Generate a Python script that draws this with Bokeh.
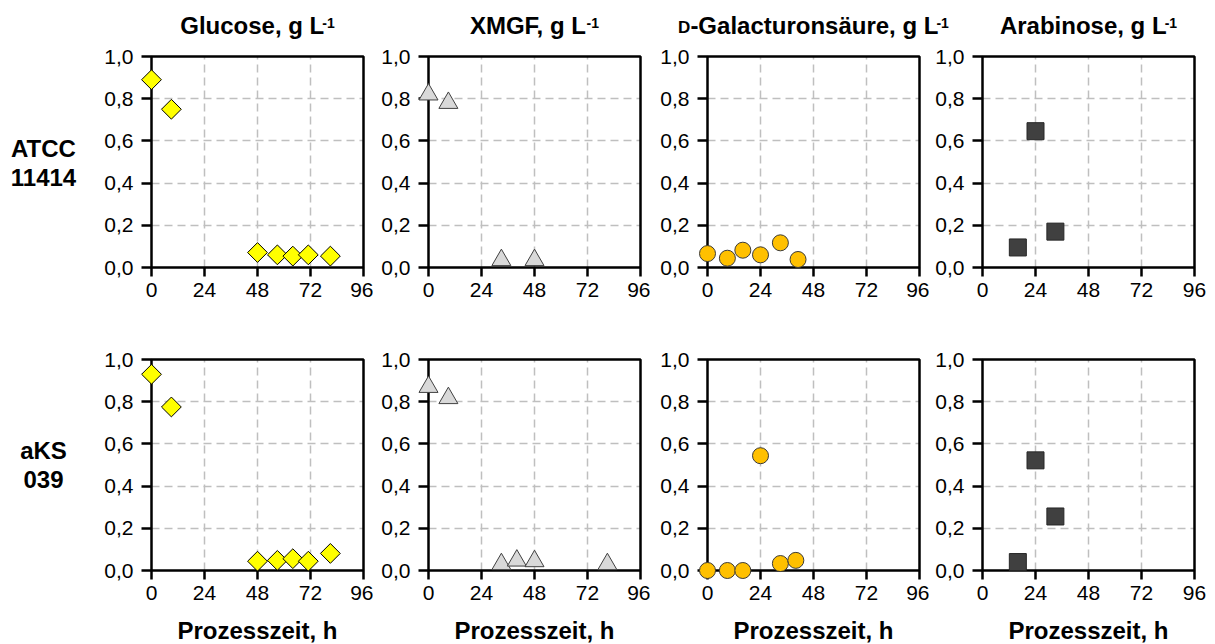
from bokeh.plotting import figure
from bokeh.layouts import row, column
from bokeh.models import Range1d, FixedTicker, CustomJSTickFormatter, Label, BoxAnnotation
from bokeh.embed import file_html
from bokeh.resources import INLINE
import math

# ---- data: process time (h) and concentration (g/L) ----
glc_t_atcc = [0, 9, 48, 57, 64, 71, 81]
glc_atcc = [0.89, 0.75, 0.071, 0.060, 0.054, 0.060, 0.054]
glc_t_aks = [0, 9, 48, 57, 64, 71, 81]
glc_aks = [0.93, 0.775, 0.044, 0.048, 0.056, 0.044, 0.081]

xmgf_t_atcc = [0, 9, 33, 48]
xmgf_atcc = [0.82, 0.78, 0.035, 0.035]
xmgf_t_aks = [0, 9, 33, 40, 48, 81]
xmgf_aks = [0.87, 0.817, 0.03, 0.047, 0.044, 0.03]

gala_t_atcc = [0, 9, 16, 24, 33, 41]
gala_atcc = [0.066, 0.044, 0.082, 0.060, 0.117, 0.038]
gala_t_aks = [0, 9, 16, 24, 33, 40]
gala_aks = [0.0, 0.0, 0.0, 0.544, 0.033, 0.048]

ara_t_atcc = [16, 24, 33]
ara_atcc = [0.095, 0.646, 0.170]
ara_t_aks = [16, 24, 33]
ara_aks = [0.040, 0.522, 0.256]

x_ticks = [0, 24, 48, 72, 96]
y_ticks = [0.0, 0.2, 0.4, 0.6, 0.8, 1.0]
strain_labels = [["ATCC", "11414"], ["aKS", "039"]]
x_label = "Prozesszeit, h"

series = [
    [(glc_t_atcc, glc_atcc), (xmgf_t_atcc, xmgf_atcc), (gala_t_atcc, gala_atcc), (ara_t_atcc, ara_atcc)],
    [(glc_t_aks, glc_aks), (xmgf_t_aks, xmgf_aks), (gala_t_aks, gala_aks), (ara_t_aks, ara_aks)],
]

# title pieces: (text, font size px, baseline raise px, extra kern px before the piece)
titles = [
    [("Glucose, g L", 24, 0, 0), ("-1", 14, 6, -2)],
    [("XMGF, g L", 24, 0, 0), ("-1", 14, 6, -2)],
    [("D", 17, 0, 0), ("-Galacturonsäure, g L", 24, 0, 0), ("-1", 14, 6, -2)],
    [("Arabinose, g L", 24, 0, 0), ("-1", 14, 6, -2)],
]

markers = [
    dict(marker="square", size=14, angle=math.pi / 4, fill_color="#FFFF00", line_color="#000000"),
    dict(marker="triangle", size=19, angle=0, fill_color="#D9D9D9", line_color="#404040"),
    dict(marker="circle", size=16, angle=0, fill_color="#FFC000", line_color="#3A3A3A"),
    dict(marker="square", size=17, angle=0, fill_color="#404040", line_color="#262626"),
]

# approximate Arial Bold advance widths (per 1000 em)
BOLD_W = {"G": 778, "l": 278, "u": 611, "c": 556, "o": 611, "s": 556, "e": 556, ",": 278,
          " ": 278, "g": 611, "L": 611, "X": 667, "M": 833, "F": 611, "-": 333, "a": 556,
          "t": 333, "r": 389, "n": 611, "ä": 556, "D": 722, "A": 722, "b": 611, "i": 278,
          "1": 556}


def text_width(txt, size):
    return sum(BOLD_W.get(ch, 556) for ch in txt) * size / 1000.0


FONT = "Liberation Sans"
PAGE_W = 1215

# layout (pixels)
BOX_W, BOX_H = 212, 211
PAD_X, PAD_Y = 10, 9           # room inside the frame so edge markers are not cut
FRAME_W = BOX_W + 2 * PAD_X
FRAME_H = BOX_H + 2 * PAD_Y
px_x = BOX_W / 96.0
px_y = BOX_H / 1.0

LABEL_W = 100
HEADER_H = 40
FOOTER_H = 29
col_border_left = [41, 45, 47, 43]
col_border_right = [0, 0, 0, 11]
row_border_top = [7, 38]
row_border_bottom = [36, 36]
row_page_top = [HEADER_H, HEADER_H + row_border_top[0] + FRAME_H + row_border_bottom[0]]
footer_page_top = row_page_top[1] + row_border_top[1] + FRAME_H + row_border_bottom[1]
box_centers = [257, 534, 813, 1088]


def mid_y(baseline, size):
    # vertical centre of the text box for a wanted baseline (Liberation Sans metrics)
    return baseline - 0.3465 * size


def text_panel(width, height):
    p = figure(width=width, height=height, x_range=Range1d(0, width), y_range=Range1d(height, 0),
               x_axis_type=None, y_axis_type=None, output_backend="svg",
               toolbar_location=None, title=None, frame_align=False,
               min_border_left=0, min_border_right=0, min_border_top=0, min_border_bottom=0)
    p.outline_line_color = None
    p.background_fill_color = "white"
    p.border_fill_color = "white"
    return p


def bold_label(x, baseline, text, size=24, align="center"):
    return Label(x=x, y=mid_y(baseline, size), text=text, text_font=FONT,
                 text_font_style="bold", text_font_size=f"{size}px", text_color="black",
                 text_align=align, text_baseline="middle")


def make_panel(r, c):
    ts, ys = series[r][c]
    p = figure(
        width=col_border_left[c] + FRAME_W + col_border_right[c],
        height=row_border_top[r] + FRAME_H + row_border_bottom[r],
        x_range=Range1d(-PAD_X / px_x, 96 + PAD_X / px_x),
        y_range=Range1d(-PAD_Y / px_y, 1 + PAD_Y / px_y),
        min_border_left=col_border_left[c], min_border_right=col_border_right[c],
        min_border_top=row_border_top[r], min_border_bottom=row_border_bottom[r],
        output_backend="svg", toolbar_location=None, title=None, frame_align=False,
    )
    p.outline_line_color = None
    p.background_fill_color = "white"
    p.border_fill_color = "white"

    xa, ya = p.xaxis[0], p.yaxis[0]
    xa.ticker = FixedTicker(ticks=x_ticks)
    ya.ticker = FixedTicker(ticks=y_ticks)
    ya.formatter = CustomJSTickFormatter(code="return tick.toFixed(1).replace('.', ',');")
    for ax in (xa, ya):
        ax.axis_line_color = None
        ax.major_tick_line_color = "black"
        ax.major_tick_line_width = 2.5
        ax.major_tick_out = 0
        ax.minor_tick_line_color = None
        ax.major_label_text_font = FONT
        ax.major_label_text_font_size = "21px"
        ax.major_label_text_color = "black"
    ya.major_tick_in = PAD_X
    xa.major_tick_in = PAD_Y
    ya.major_label_standoff = 8
    xa.major_label_standoff = 6

    p.xgrid.ticker = FixedTicker(ticks=[24, 48, 72])
    p.ygrid.ticker = FixedTicker(ticks=[0.2, 0.4, 0.6, 0.8])
    p.xgrid.cross_bounds = (0, 1)
    p.ygrid.cross_bounds = (0, 96)
    for g in (p.xgrid, p.ygrid):
        g.grid_line_color = "#BFBFBF"
        g.grid_line_dash = "8 5"
        g.grid_line_width = 1.5

    p.add_layout(BoxAnnotation(left=0, right=96, bottom=0, top=1, fill_color=None,
                               fill_alpha=0, line_color="black", line_alpha=1.0,
                               line_width=2.5))

    m = markers[c]
    p.scatter(x=ts, y=ys, marker=m["marker"], size=m["size"], angle=m["angle"],
              fill_color=m["fill_color"], line_color=m["line_color"], line_width=1,
              level="overlay")
    return p


# header with the column titles
header = text_panel(PAGE_W, HEADER_H)
for c, pieces in enumerate(titles):
    total = sum(text_width(t, s) + k for t, s, _, k in pieces)
    x = box_centers[c] - total / 2.0
    for t, s, raise_px, kern in pieces:
        x += kern
        header.add_layout(bold_label(x, 33 - raise_px, t, size=s, align="left"))
        x += text_width(t, s)

# strain names, baselines in page pixels
strain_baselines = [[156, 185], [458, 487]]

rows = []
for r in range(2):
    h = row_border_top[r] + FRAME_H + row_border_bottom[r]
    lab = text_panel(LABEL_W, h)
    for line, base in zip(strain_labels[r], strain_baselines[r]):
        lab.add_layout(bold_label(43, base - row_page_top[r], line))
    rows.append(row([lab] + [make_panel(r, c) for c in range(4)], spacing=0))

footer = text_panel(PAGE_W, FOOTER_H)
for c in range(4):
    footer.add_layout(bold_label(box_centers[c], 638 - footer_page_top, x_label))

layout = column([header] + rows + [footer], spacing=0)

open("out.html", "w").write(file_html(layout, INLINE))
